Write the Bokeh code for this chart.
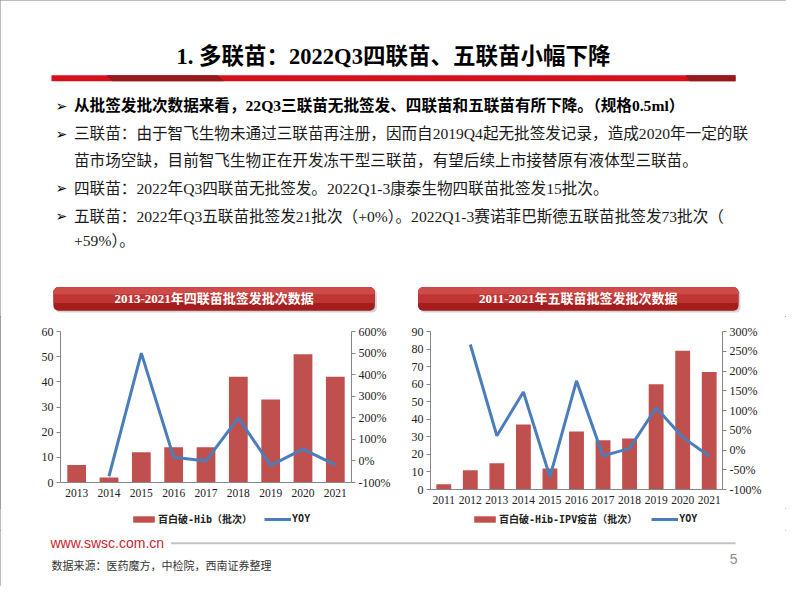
from bokeh.plotting import figure
from bokeh.models import (Range1d, FactorRange, LinearAxis, FixedTicker, PrintfTickFormatter,
                          Legend, LegendItem, BoxAnnotation, ColumnDataSource)
from bokeh.layouts import column, row
from bokeh.core.properties import value
from bokeh.embed import file_html
from bokeh.resources import INLINE

# ---------------- data ----------------
TITLE = "1. 多联苗：2022Q3四联苗、五联苗小幅下降"
BULLET_TEXTS = [
    "从批签发批次数据来看，22Q3三联苗无批签发、四联苗和五联苗有所下降。（规格0.5ml）",
    "三联苗：由于智飞生物未通过三联苗再注册，因而自2019Q4起无批签发记录，造成2020年一定的联",
    "苗市场空缺，目前智飞生物正在开发冻干型三联苗，有望后续上市接替原有液体型三联苗。",
    "四联苗：2022年Q3四联苗无批签发。2022Q1-3康泰生物四联苗批签发15批次。",
    "五联苗：2022年Q3五联苗批签发21批次（+0%）。2022Q1-3赛诺菲巴斯德五联苗批签发73批次（",
    "+59%）。",
]
BULLET_MARK = [True, True, False, True, True, False]
BULLET_BOLD = [True, False, False, False, False, False]

CHART4_TITLE = "2013-2021年四联苗批签发批次数据"
years4 = ["2013", "2014", "2015", "2016", "2017", "2018", "2019", "2020", "2021"]
batches4 = [7, 2, 12, 14, 14, 42, 33, 51, 42]
yoy4_years = ["2014", "2015", "2016", "2017", "2018", "2019", "2020", "2021"]
yoy4 = [-71, 500, 17, 0, 200, -21, 55, -18]
bar4_label = "百白破-Hib（批次）"

CHART5_TITLE = "2011-2021年五联苗批签发批次数据"
years5 = ["2011", "2012", "2013", "2014", "2015", "2016", "2017", "2018", "2019", "2020", "2021"]
batches5 = [3, 11, 15, 37, 12, 33, 28, 29, 60, 79, 67]
yoy5_years = ["2012", "2013", "2014", "2015", "2016", "2017", "2018", "2019", "2020", "2021"]
yoy5 = [267, 36, 147, -68, 175, -15, 4, 107, 32, -15]
bar5_label = "百白破-Hib-IPV疫苗（批次）"
line_label = "YOY"

SITE = "www.swsc.com.cn"
SOURCE = "数据来源：医药魔方，中检院，西南证券整理"
PAGE_NO = "5"

# ---------------- styles ----------------
SERIF = "Liberation Serif, Noto Sans CJK SC"
CJK = "Noto Sans CJK SC"
LEG_FONT = "DejaVu Sans Mono, Noto Sans CJK SC"
BAR_COLOR = "#c0504d"
LINE_COLOR = "#4a7ebb"
AXIS_COLOR = "#868686"


def blank(w, h, xr, yr):
    p = figure(width=w, height=h, x_range=xr, y_range=yr, output_backend="svg",
               toolbar_location=None, title=None, x_axis_location=None, y_axis_location=None,
               min_border=0)
    p.grid.visible = False
    p.outline_line_color = None
    p.background_fill_color = "white"
    p.border_fill_color = "white"
    return p


# ---------------- top part (title, text, banners) ----------------
top = blank(786, 316, Range1d(0, 802), Range1d(325, 0))
top.text(x=[401], y=[58], text=[TITLE], text_font=value(SERIF), text_font_size="22.5px",
         text_font_style="bold", text_align="center", text_baseline="middle", text_color="#000000")
top.quad(left=[52], right=[750], top=[77], bottom=[83], fill_color="#d7101c", line_color=None)
top.patch(x=[108, 222, 228, 114], y=[77, 77, 83, 83], fill_color="#951a1d", line_color=None)
top.patch(x=[699, 750, 750, 703], y=[77, 77, 83, 83], fill_color="#951a1d", line_color=None)

line_y = [108, 137, 165, 193, 222, 247]
for yy, txt, mark, bold in zip(line_y, BULLET_TEXTS, BULLET_MARK, BULLET_BOLD):
    if mark:
        top.text(x=[56], y=[yy], text=["➢"], text_font=value("DejaVu Sans"), text_font_size="14px",
                 text_align="left", text_baseline="middle", text_color="#000000")
    top.text(x=[75], y=[yy], text=[txt], text_font=value(SERIF), text_font_size="15.6px",
             text_font_style="bold" if bold else "normal", text_align="left",
             text_baseline="middle", text_color="#000000" if bold else "#1a1a1a")

for (l, r, ttl) in [(54, 382, CHART4_TITLE), (426, 753, CHART5_TITLE)]:
    top.add_layout(BoxAnnotation(left=l + 2, right=r + 2, top=297, bottom=321, fill_color="#808080",
                                 fill_alpha=0.35, line_color=None, border_radius=5, level="underlay"))
    top.add_layout(BoxAnnotation(left=l, right=r, top=295, bottom=319, fill_color="#a41d1d",
                                 fill_alpha=1, line_color=None, border_radius=5, level="underlay"))
    top.add_layout(BoxAnnotation(left=l, right=r, top=295, bottom=311, fill_color="#bf3533",
                                 fill_alpha=1, line_color=None, border_radius=(5, 5, 0, 0),
                                 level="underlay"))
    top.add_layout(BoxAnnotation(left=l, right=r, top=295, bottom=302, fill_color="#cf4b49",
                                 fill_alpha=1, line_color=None, border_radius=(5, 5, 0, 0),
                                 level="underlay"))
    top.text(x=[(l + r) / 2], y=[307], text=[ttl], text_font=value(SERIF), text_font_size="13px",
             text_font_style="bold", text_align="center", text_baseline="middle", text_color="white")


# ---------------- charts ----------------
def chart(years, bars, yoy_years, yoy, ymax, ystep, rmin, rmax, rstep, bar_w,
          bl, br, bt, bb, fw, fh):
    p = figure(frame_width=fw, frame_height=fh, x_range=FactorRange(factors=years, range_padding=0),
               y_range=Range1d(0, ymax), output_backend="svg", toolbar_location=None, title=None,
               min_border_left=bl, min_border_right=br, min_border_top=bt, min_border_bottom=bb)
    p.extra_y_ranges = {"yoy": Range1d(rmin, rmax)}
    p.grid.visible = False
    p.outline_line_color = None
    src_b = ColumnDataSource(dict(x=years, top=bars))
    src_l = ColumnDataSource(dict(x=yoy_years, y=yoy))
    p.vbar(x="x", top="top", width=bar_w, source=src_b, fill_color=BAR_COLOR, line_color=None)
    p.line(x="x", y="y", source=src_l, y_range_name="yoy", line_color=LINE_COLOR, line_width=3)
    rax = LinearAxis(y_range_name="yoy", ticker=FixedTicker(ticks=list(range(rmin, rmax + 1, rstep))),
                     formatter=PrintfTickFormatter(format="%d%%"))
    p.add_layout(rax, "right")
    p.yaxis[0].ticker = FixedTicker(ticks=list(range(0, ymax + 1, ystep)))
    for ax in p.yaxis:
        ax.axis_line_color = AXIS_COLOR
        ax.major_tick_line_color = AXIS_COLOR
        ax.major_tick_out = 4
        ax.major_tick_in = 0
        ax.minor_tick_line_color = None
        ax.major_label_text_font = "Liberation Serif"
        ax.major_label_text_font_size = "12px"
        ax.major_label_text_color = "#222222"
        ax.major_label_standoff = 3
    xa = p.xaxis[0]
    xa.axis_line_color = AXIS_COLOR
    xa.major_tick_line_color = None
    xa.major_tick_out = 0
    xa.major_tick_in = 0
    xa.minor_tick_line_color = None
    xa.major_label_text_font = "Liberation Serif"
    xa.major_label_text_font_size = "11.5px"
    xa.major_label_text_color = "#222222"
    xa.major_label_standoff = 6
    return p


def legend_fig(bar_label, lx, ly, gap):
    # legend panel under each chart; its renderers hold a zero-size mark only
    p = blank(393, 22, Range1d(0, 1), Range1d(0, 1))
    key_b = ColumnDataSource(dict(x=[0], top=[0]))
    key_l = ColumnDataSource(dict(x=[0], y=[0]))
    bar = p.vbar(x="x", top="top", bottom=0, width=0, source=key_b, fill_color=BAR_COLOR,
                 line_color=None)
    ln = p.line(x="x", y="y", source=key_l, line_color=LINE_COLOR, line_width=3)
    legend = Legend(items=[LegendItem(label=bar_label, renderers=[bar]),
                           LegendItem(label=line_label, renderers=[ln])],
                    orientation="horizontal", location=(lx, ly),
                    label_text_font=LEG_FONT, label_text_font_size="10px", label_text_font_style="bold",
                    label_text_color="#222222",
                    glyph_width=27, glyph_height=8, label_standoff=1, spacing=gap,
                    padding=0, margin=0, label_height=12,
                    border_line_color=None, background_fill_alpha=0)
    p.add_layout(legend)
    return p


left = chart(years4, batches4, yoy4_years, yoy4, 60, 10, -100, 600, 100, 0.58,
             60, 42, 15, 26, 291, 151)
right = chart(years5, batches5, yoy5_years, yoy5, 90, 10, -100, 300, 50, 0.56,
              37, 64, 10, 24, 292, 158)
left_leg = legend_fig(bar4_label, 130, 4, 12)
right_leg = legend_fig(bar5_label, 78, 4, 14)

# ---------------- footer ----------------
bot = blank(786, 56, Range1d(0, 802), Range1d(602, 545))
bot.text(x=[51], y=[558], text=[SITE], text_font=value("Liberation Sans"), text_font_size="14px",
         text_align="left", text_baseline="middle", text_color="#cc1f2f")
bot.segment(x0=[174], y0=[558], x1=[750], y1=[558], line_color="#c4c4c4", line_width=2)
bot.text(x=[52], y=[581], text=[SOURCE], text_font=value(SERIF), text_font_size="11px",
         text_align="left", text_baseline="middle", text_color="#333333")
bot.text(x=[752], y=[574], text=[PAGE_NO], text_font=value("Liberation Sans"), text_font_size="14px",
         text_align="right", text_baseline="middle", text_color="#8c8c8c")

layout = column(top, row(left, right, spacing=0), row(left_leg, right_leg, spacing=0), bot,
                spacing=0, styles={"outline": "1px solid #7f7f7f", "outline-offset": "-1px"})

open("out.html", "w").write(file_html(layout, INLINE))
